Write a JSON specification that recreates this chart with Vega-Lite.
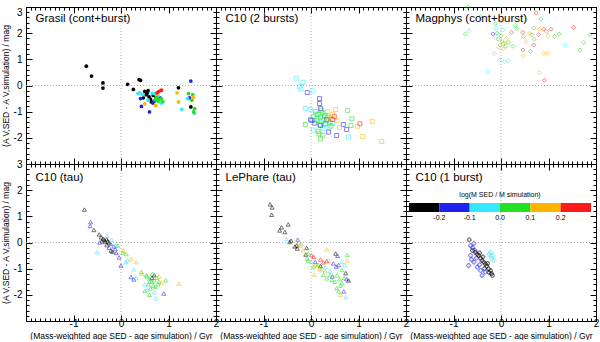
{
"$schema":"https://vega.github.io/schema/vega-lite/v6.json",
"padding":{"left":0,"top":2,"right":0,"bottom":0},
"config":{"view":{"stroke":"black","strokeWidth":1},"font":"Liberation Sans",
"axis":{"domain":false,"grid":false,"tickColor":"black","tickWidth":1,"labelFont":"Liberation Sans","labelFontSize":10,"labelColor":"black","titleFont":"Liberation Sans","titleFontSize":8.5,"titleFontWeight":"normal","titleColor":"black","labelFlush":false,"labelOverlap":false,"labelBound":false}},
"datasets":{
"grasil":[
{"x":-0.73,"y":0.74,"m":-0.25},{"x":-0.62,"y":0.36,"m":-0.25},{"x":-0.38,"y":0.1,"m":-0.25},{"x":-0.38,"y":-0.1,"m":-0.25},{"x":0.14,"y":0.04,"m":-0.25},{"x":0.38,"y":0.22,"m":-0.25},{"x":0.41,"y":0.2,"m":-0.25},{"x":0.26,"y":-0.15,"m":-0.25},{"x":0.5,"y":-0.22,"m":-0.25},{"x":0.53,"y":-0.35,"m":-0.25},{"x":0.59,"y":-0.43,"m":-0.25},{"x":0.64,"y":-0.63,"m":-0.25},{"x":0.74,"y":-0.47,"m":-0.25},{"x":0.47,"y":-0.47,"m":-0.25},{"x":0.55,"y":-0.3,"m":-0.25},{"x":0.62,"y":-0.52,"m":-0.25},{"x":0.68,"y":-0.38,"m":-0.25},{"x":1.21,"y":-0.09,"m":-0.25},{"x":1.47,"y":-0.82,"m":-0.25},{"x":0.57,"y":-0.2,"m":-0.25},
{"x":0.41,"y":-0.5,"m":-0.15},{"x":0.43,"y":-0.8,"m":-0.15},{"x":0.6,"y":-1.01,"m":-0.15},{"x":0.67,"y":-0.67,"m":-0.15},{"x":0.82,"y":-0.47,"m":-0.15},{"x":1.47,"y":0.17,"m":-0.15},{"x":1.44,"y":-0.47,"m":-0.15},{"x":0.7,"y":-0.6,"m":-0.15},
{"x":0.4,"y":-0.28,"m":-0.05},{"x":0.46,"y":-0.35,"m":-0.05},{"x":0.57,"y":-0.56,"m":-0.05},{"x":0.71,"y":-0.31,"m":-0.05},{"x":0.85,"y":-0.67,"m":-0.05},{"x":1.4,"y":-0.5,"m":-0.05},{"x":1.28,"y":-0.91,"m":-0.05},{"x":1.55,"y":-1.07,"m":-0.05},{"x":0.36,"y":-0.3,"m":-0.05},{"x":0.65,"y":-0.3,"m":-0.05},{"x":0.78,"y":-0.4,"m":-0.05},
{"x":0.75,"y":-0.45,"m":0.05},{"x":0.8,"y":-0.55,"m":0.05},{"x":0.85,"y":-0.5,"m":0.05},{"x":0.78,"y":-0.6,"m":0.05},{"x":0.88,"y":-0.62,"m":0.05},{"x":1.42,"y":-0.31,"m":0.05},{"x":1.51,"y":-0.35,"m":0.05},{"x":1.49,"y":-0.56,"m":0.05},{"x":1.55,"y":-0.88,"m":0.05},{"x":1.53,"y":-1.01,"m":0.05},{"x":0.72,"y":-0.55,"m":0.05},
{"x":0.76,"y":-0.31,"m":0.15},{"x":1.18,"y":-0.28,"m":0.15},{"x":1.21,"y":-0.63,"m":0.15},{"x":0.73,"y":-0.76,"m":0.15},{"x":1.52,"y":-0.45,"m":0.15},{"x":0.5,"y":-0.7,"m":0.15},
{"x":0.8,"y":-0.22,"m":0.25},{"x":0.85,"y":-0.18,"m":0.25},{"x":0.76,"y":-0.28,"m":0.25}],
"c10b2":[
{"x":-0.31,"y":0.28,"m":-0.05},{"x":-0.17,"y":0.12,"m":-0.05},{"x":-0.21,"y":-0.13,"m":-0.05},{"x":-0.24,"y":-0.03,"m":-0.05},{"x":0.04,"y":-0.2,"m":-0.05},{"x":-0.12,"y":-0.88,"m":-0.05},{"x":-0.01,"y":-0.92,"m":-0.05},{"x":0.79,"y":-1.97,"m":-0.05},{"x":0.3,"y":-1.5,"m":-0.05},{"x":0.38,"y":-1.6,"m":-0.05},{"x":0.25,"y":-1.65,"m":-0.05},{"x":0.45,"y":-1.45,"m":-0.05},{"x":0.1,"y":-1.1,"m":-0.05},{"x":0.15,"y":-1.25,"m":-0.05},{"x":0.28,"y":-1.15,"m":-0.05},{"x":0.35,"y":-1.3,"m":-0.05},{"x":0.22,"y":-1.4,"m":-0.05},{"x":0.05,"y":-1.7,"m":-0.05},
{"x":-0.08,"y":-0.27,"m":-0.15},{"x":0.18,"y":-0.5,"m":-0.15},{"x":0.18,"y":-0.69,"m":-0.15},{"x":0.2,"y":-0.88,"m":-0.15},{"x":-0.01,"y":-1.31,"m":-0.15},{"x":0.08,"y":-1.44,"m":-0.15},{"x":0.2,"y":-1.53,"m":-0.15},{"x":0.33,"y":-1.31,"m":-0.15},{"x":0.37,"y":-1.78,"m":-0.15},{"x":0.54,"y":-1.91,"m":-0.15},{"x":0.68,"y":-1.49,"m":-0.15},{"x":0.75,"y":-1.68,"m":-0.15},{"x":0.02,"y":-1.33,"m":-0.15},
{"x":0.27,"y":-1.33,"m":0.05},{"x":0.1,"y":-1.0,"m":0.05},{"x":0.15,"y":-1.1,"m":0.05},{"x":0.2,"y":-1.2,"m":0.05},{"x":0.25,"y":-1.05,"m":0.05},{"x":0.3,"y":-1.15,"m":0.05},{"x":0.35,"y":-1.2,"m":0.05},{"x":0.4,"y":-1.4,"m":0.05},{"x":0.12,"y":-1.35,"m":0.05},{"x":0.18,"y":-1.5,"m":0.05},{"x":0.3,"y":-1.45,"m":0.05},{"x":0.42,"y":-1.55,"m":0.05},{"x":-0.12,"y":-1.49,"m":0.05},{"x":0.77,"y":-0.95,"m":0.05},{"x":0.86,"y":-1.27,"m":0.05},{"x":0.84,"y":-1.53,"m":0.05},{"x":0.17,"y":-1.85,"m":0.05},{"x":0.2,"y":-2.04,"m":0.05},{"x":0.15,"y":-1.75,"m":0.05},{"x":0.25,"y":-1.9,"m":0.05},{"x":0.05,"y":-1.2,"m":0.05},{"x":0.22,"y":-0.95,"m":0.05},
{"x":0.52,"y":-0.92,"m":0.15},{"x":0.98,"y":-1.56,"m":0.15},{"x":1.09,"y":-1.95,"m":0.15},{"x":1.29,"y":-1.37,"m":0.15},{"x":1.49,"y":-2.14,"m":0.15},{"x":0.45,"y":-1.1,"m":0.15},{"x":0.4,"y":-1.25,"m":0.15},{"x":0.55,"y":-1.35,"m":0.15},{"x":0.35,"y":-1.0,"m":0.15},{"x":0.6,"y":-1.6,"m":0.15},
{"x":1.03,"y":-1.46,"m":0.25},{"x":0.49,"y":-1.18,"m":0.25},{"x":0.45,"y":-1.3,"m":0.25}],
"magphys":[
{"x":0.74,"y":2.77,"m":0.25},{"x":0.22,"y":2.03,"m":0.25},{"x":0.46,"y":2.03,"m":0.25},{"x":0.69,"y":1.55,"m":0.25},{"x":0.46,"y":1.36,"m":0.25},{"x":0.9,"y":2.15,"m":0.25},{"x":0.79,"y":1.94,"m":0.25},{"x":1.05,"y":2.15,"m":0.25},{"x":1.53,"y":2.22,"m":0.25},{"x":0.91,"y":0.2,"m":0.25},
{"x":0.84,"y":2.54,"m":0.05},{"x":-0.75,"y":1.97,"m":0.05},{"x":-0.12,"y":2.36,"m":0.05},{"x":-0.06,"y":1.77,"m":0.05},{"x":0.33,"y":2.19,"m":0.05},{"x":0.47,"y":1.87,"m":0.05},{"x":0.62,"y":1.3,"m":0.05},{"x":0.69,"y":2.19,"m":0.05},{"x":0.65,"y":1.94,"m":0.05},{"x":0.7,"y":1.77,"m":0.05},{"x":0.96,"y":2.06,"m":0.05},{"x":1.13,"y":1.87,"m":0.05},{"x":1.22,"y":1.97,"m":0.05},{"x":1.66,"y":1.36,"m":0.05},{"x":1.74,"y":1.64,"m":0.05},{"x":1.87,"y":1.94,"m":0.05},{"x":-0.7,"y":3.0,"m":0.05},{"x":-0.43,"y":2.64,"m":0.05},{"x":0.05,"y":1.6,"m":0.05},{"x":0.1,"y":1.5,"m":0.05},{"x":0.15,"y":1.65,"m":0.05},{"x":0.25,"y":1.5,"m":0.05},{"x":0.0,"y":1.9,"m":0.05},{"x":-0.08,"y":2.0,"m":0.05},{"x":0.3,"y":2.3,"m":0.05},
{"x":-0.67,"y":2.09,"m":-0.05},{"x":-0.1,"y":2.19,"m":-0.05},{"x":-0.11,"y":1.87,"m":-0.05},{"x":0.04,"y":2.13,"m":-0.05},{"x":1.36,"y":1.53,"m":-0.05},{"x":-0.03,"y":0.95,"m":-0.05},{"x":0.07,"y":0.91,"m":-0.05},{"x":0.15,"y":0.95,"m":-0.05},{"x":-0.14,"y":1.23,"m":-0.05},{"x":-0.28,"y":0.53,"m":-0.05},{"x":-0.05,"y":1.45,"m":-0.05},
{"x":-0.17,"y":1.97,"m":-0.15},
{"x":0.02,"y":1.7,"m":0.15},{"x":0.08,"y":1.62,"m":0.15},{"x":-0.02,"y":1.55,"m":0.15},{"x":0.12,"y":1.8,"m":0.15},{"x":0.53,"y":1.68,"m":0.15},{"x":0.47,"y":1.13,"m":0.15},{"x":0.81,"y":2.15,"m":0.15},{"x":0.99,"y":1.9,"m":0.15},{"x":0.9,"y":1.23,"m":0.15},{"x":0.98,"y":1.23,"m":0.15},{"x":0.81,"y":0.49,"m":0.15},{"x":0.6,"y":2.0,"m":0.15},{"x":0.05,"y":1.4,"m":0.15}],
"c10tau":[
{"x":-0.77,"y":1.26,"m":-0.25},{"x":-0.57,"y":0.48,"m":-0.25},{"x":-0.46,"y":0.31,"m":-0.25},{"x":-0.42,"y":0.2,"m":-0.25},{"x":-0.38,"y":0.15,"m":-0.25},{"x":-0.35,"y":0.1,"m":-0.25},{"x":-0.3,"y":0.12,"m":-0.25},{"x":-0.28,"y":0.05,"m":-0.25},{"x":-0.33,"y":0.02,"m":-0.25},{"x":-0.25,"y":0.0,"m":-0.25},{"x":-0.4,"y":0.05,"m":-0.25},{"x":-0.21,"y":-0.31,"m":-0.25},{"x":-0.18,"y":-0.35,"m":-0.25},{"x":-0.3,"y":-0.1,"m":-0.25},{"x":0.65,"y":-1.35,"m":-0.25},{"x":0.7,"y":-1.25,"m":-0.25},
{"x":-0.64,"y":0.78,"m":-0.15},{"x":-0.65,"y":0.63,"m":-0.15},{"x":-0.22,"y":-0.05,"m":-0.15},{"x":-0.15,"y":-0.15,"m":-0.15},{"x":-0.12,"y":-0.25,"m":-0.15},{"x":-0.1,"y":-0.4,"m":-0.15},{"x":-0.04,"y":-0.57,"m":-0.15},{"x":0.0,"y":-0.88,"m":-0.15},{"x":0.21,"y":-1.32,"m":-0.15},{"x":0.27,"y":-1.41,"m":-0.15},{"x":0.9,"y":-1.95,"m":-0.15},{"x":-0.45,"y":0.0,"m":-0.15},{"x":-0.25,"y":-0.2,"m":-0.15},
{"x":-0.5,"y":-0.37,"m":-0.05},{"x":-0.3,"y":0.25,"m":-0.05},{"x":-0.2,"y":0.1,"m":-0.05},{"x":0.14,"y":-0.69,"m":-0.05},{"x":0.1,"y":-0.75,"m":-0.05},{"x":0.27,"y":-1.03,"m":-0.05},{"x":0.32,"y":-1.36,"m":-0.05},{"x":0.74,"y":-2.14,"m":-0.05},{"x":0.5,"y":-1.6,"m":-0.05},{"x":0.55,"y":-1.8,"m":-0.05},{"x":0.7,"y":-1.9,"m":-0.05},{"x":0.6,"y":-1.5,"m":-0.05},{"x":-0.1,"y":-0.1,"m":-0.05},
{"x":-0.07,"y":-0.12,"m":0.05},{"x":0.04,"y":-0.38,"m":0.05},{"x":0.11,"y":-0.44,"m":0.05},{"x":0.43,"y":-1.13,"m":0.05},{"x":0.55,"y":-1.3,"m":0.05},{"x":0.6,"y":-1.4,"m":0.05},{"x":0.65,"y":-1.5,"m":0.05},{"x":0.7,"y":-1.45,"m":0.05},{"x":0.75,"y":-1.35,"m":0.05},{"x":0.8,"y":-1.5,"m":0.05},{"x":0.58,"y":-1.6,"m":0.05},{"x":0.68,"y":-1.65,"m":0.05},{"x":0.62,"y":-1.75,"m":0.05},{"x":0.72,"y":-1.7,"m":0.05},{"x":0.5,"y":-1.85,"m":0.05},{"x":0.6,"y":-2.0,"m":0.05},{"x":0.53,"y":-1.25,"m":0.05},{"x":0.78,"y":-1.6,"m":0.05},{"x":0.94,"y":-1.45,"m":0.05},{"x":0.66,"y":-1.2,"m":0.05},
{"x":0.21,"y":-0.63,"m":0.15},{"x":0.32,"y":-0.75,"m":0.15},{"x":1.22,"y":-1.57,"m":0.15},{"x":0.45,"y":-1.2,"m":0.15},{"x":0.8,"y":-1.3,"m":0.15},{"x":0.85,"y":-1.55,"m":0.15},{"x":0.05,"y":-0.3,"m":0.15}],
"lephare":[
{"x":-0.86,"y":1.46,"m":-0.25},{"x":-0.82,"y":1.34,"m":-0.25},{"x":-0.83,"y":1.06,"m":-0.25},{"x":-0.48,"y":0.69,"m":-0.25},{"x":-0.62,"y":0.58,"m":-0.25},{"x":-0.66,"y":0.46,"m":-0.25},{"x":-0.55,"y":0.4,"m":-0.25},{"x":-0.45,"y":0.02,"m":-0.25},{"x":-0.42,"y":0.07,"m":-0.25},{"x":-0.3,"y":-0.11,"m":-0.25},{"x":-0.29,"y":-0.23,"m":-0.25},{"x":-0.34,"y":-0.15,"m":-0.25},{"x":-0.09,"y":-0.21,"m":-0.25},{"x":-0.11,"y":-0.46,"m":-0.25},{"x":0.73,"y":-1.17,"m":-0.25},{"x":0.79,"y":-1.45,"m":-0.25},{"x":0.52,"y":-0.42,"m":-0.25},{"x":0.2,"y":-0.9,"m":-0.25},
{"x":-0.28,"y":0.11,"m":-0.15},{"x":0.09,"y":-0.74,"m":-0.15},{"x":0.47,"y":-0.8,"m":-0.15},{"x":0.53,"y":-0.92,"m":-0.15},{"x":0.56,"y":-0.51,"m":-0.15},{"x":0.58,"y":-0.86,"m":-0.15},{"x":0.69,"y":-1.87,"m":-0.15},{"x":0.45,"y":-1.3,"m":-0.15},{"x":0.75,"y":-1.4,"m":-0.15},
{"x":-0.52,"y":0.14,"m":-0.05},{"x":0.01,"y":-0.74,"m":-0.05},{"x":0.22,"y":-1.05,"m":-0.05},{"x":0.65,"y":-0.74,"m":-0.05},{"x":0.71,"y":-0.86,"m":-0.05},{"x":0.73,"y":-2.09,"m":-0.05},{"x":-0.2,"y":-0.05,"m":-0.05},{"x":0.4,"y":-1.1,"m":-0.05},{"x":0.3,"y":-0.95,"m":-0.05},
{"x":-0.06,"y":-0.42,"m":0.05},{"x":-0.08,"y":-0.61,"m":0.05},{"x":-0.06,"y":-0.69,"m":0.05},{"x":0.05,"y":-0.92,"m":0.05},{"x":0.26,"y":-1.24,"m":0.05},{"x":0.33,"y":-1.37,"m":0.05},{"x":0.44,"y":-1.43,"m":0.05},{"x":0.76,"y":-0.48,"m":0.05},{"x":0.65,"y":-1.05,"m":0.05},{"x":0.54,"y":-1.74,"m":0.05},{"x":0.58,"y":-1.87,"m":0.05},{"x":0.5,"y":-1.5,"m":0.05},{"x":0.6,"y":-1.4,"m":0.05},{"x":0.65,"y":-1.55,"m":0.05},{"x":0.7,"y":-1.35,"m":0.05},{"x":0.55,"y":-1.25,"m":0.05},{"x":0.15,"y":-0.85,"m":0.05},{"x":0.4,"y":-1.25,"m":0.05},{"x":0.62,"y":-1.65,"m":0.05},
{"x":-0.22,"y":-0.13,"m":0.15},{"x":-0.17,"y":-0.3,"m":0.15},{"x":0.33,"y":-0.26,"m":0.15},{"x":0.37,"y":-0.69,"m":0.15},{"x":0.76,"y":-0.69,"m":0.15},{"x":0.1,"y":-0.85,"m":0.15},{"x":0.18,"y":-1.0,"m":0.15},{"x":0.3,"y":-1.1,"m":0.15},{"x":-0.25,"y":0.0,"m":0.15},{"x":0.62,"y":-2.0,"m":0.15},{"x":0.07,"y":-1.23,"m":0.15},
{"x":0.01,"y":-0.48,"m":0.25},{"x":0.06,"y":-0.55,"m":0.25},{"x":0.26,"y":-0.76,"m":0.25},{"x":0.33,"y":-0.71,"m":0.25},{"x":0.2,"y":-0.65,"m":0.25}],
"c10b1":[
{"x":-0.67,"y":0.1,"m":-0.25},{"x":-0.54,"y":-0.38,"m":-0.25},{"x":-0.47,"y":-0.5,"m":-0.25},{"x":-0.4,"y":-0.69,"m":-0.25},{"x":-0.33,"y":-0.82,"m":-0.25},{"x":-0.26,"y":-1.01,"m":-0.25},{"x":-0.2,"y":-1.19,"m":-0.25},{"x":-0.22,"y":-1.07,"m":-0.25},{"x":-0.18,"y":-1.26,"m":-0.25},{"x":-0.5,"y":-0.45,"m":-0.25},{"x":-0.43,"y":-0.6,"m":-0.25},{"x":-0.36,"y":-0.75,"m":-0.25},{"x":-0.3,"y":-0.9,"m":-0.25},{"x":-0.45,"y":-0.4,"m":-0.25},{"x":-0.38,"y":-0.55,"m":-0.25},{"x":-0.28,"y":-0.8,"m":-0.25},{"x":-0.35,"y":-1.0,"m":-0.25},{"x":-0.25,"y":-1.15,"m":-0.25},{"x":-0.6,"y":-0.3,"m":-0.25},
{"x":-0.57,"y":-0.03,"m":-0.15},{"x":-0.64,"y":-0.12,"m":-0.15},{"x":-0.6,"y":-0.2,"m":-0.15},{"x":-0.64,"y":-0.5,"m":-0.15},{"x":-0.57,"y":-0.75,"m":-0.15},{"x":-0.5,"y":-0.94,"m":-0.15},{"x":-0.43,"y":-1.07,"m":-0.15},{"x":-0.68,"y":-0.88,"m":-0.15},{"x":-0.33,"y":-1.13,"m":-0.15},{"x":-0.4,"y":-1.26,"m":-0.15},{"x":-0.55,"y":-0.3,"m":-0.15},{"x":-0.52,"y":-0.6,"m":-0.15},{"x":-0.45,"y":-0.85,"m":-0.15},{"x":-0.62,"y":-0.65,"m":-0.15},
{"x":-0.18,"y":-0.5,"m":-0.05},{"x":-0.15,"y":-0.69,"m":-0.05},{"x":-0.22,"y":-0.38,"m":-0.05},{"x":-0.2,"y":-0.6,"m":-0.05},{"x":-0.25,"y":-0.45,"m":-0.05}]
},
"columns":3,
"spacing":0,
"bounds":"flush",
"concat":[
{"width":190,"height":157,"data":{"name":"grasil"},"resolve":{"axis":{"x":"independent","y":"independent"}},"layer":[
 {"mark":{"type":"point","shape":"circle","filled":true,"size":14,"opacity":1},
  "encoding":{"x":{"field":"x","type":"quantitative","scale":{"domain":[-2,2],"nice":false,"zero":false},"axis":{"orient":"bottom","values":[-2,-1.9,-1.8,-1.7,-1.6,-1.5,-1.4,-1.3,-1.2,-1.1,-1,-0.9,-0.8,-0.7,-0.6,-0.5,-0.4,-0.3,-0.2,-0.1,0,0.1,0.2,0.3,0.4,0.5,0.6,0.7,0.8,0.9,1,1.1,1.2,1.3,1.4,1.5,1.6,1.7,1.8,1.9,2],"labels":false,"title":null,"tickSize":{"condition":{"test":"datum.value % 1 === 0","value":-6},"value":-3}}},
   "y":{"field":"y","type":"quantitative","scale":{"domain":[-3,3],"nice":false,"zero":false},"axis":{"orient":"left","values":[-3,-2.8,-2.6,-2.4,-2.2,-2,-1.8,-1.6,-1.4,-1.2,-1,-0.8,-0.6,-0.4,-0.2,0,0.2,0.4,0.6,0.8,1,1.2,1.4,1.6,1.8,2,2.2,2.4,2.6,2.8,3],"labelExpr":"indexof([-2,-1,0,1,2,3], datum.value) >= 0 ? '' + datum.value : ''","labelFlush":true,"labelPadding":10,"title":"(A V,SED - A V,simulation) / mag","titlePadding":3,"tickSize":{"condition":{"test":"datum.value % 1 === 0","value":-6},"value":-3}}},
   "color":{"field":"m","type":"quantitative","scale":{"type":"threshold","domain":[-0.2,-0.1,0,0.1,0.2],"range":["#000000","#2222ee","#33e8ff","#22e022","#ffb400","#ff1a1a"]},"legend":{"type":"gradient","orient":"none","direction":"horizontal","legendX":383,"legendY":184,"gradientLength":182,"gradientThickness":9,"title":"log(M SED / M simulation)","titleFontSize":7,"titleFontWeight":"normal","titleAnchor":"middle","labelFontSize":7,"labelExpr":"isFinite(datum.value) ? (datum.value === 0 ? '0.0' : '' + datum.value) : ''","gradientStrokeWidth":0}}}},
 {"data":{"values":[{"v":0}]},"mark":{"type":"rule","color":"#999999","strokeDash":[1,2],"strokeWidth":0.8},"encoding":{"x":{"field":"v","type":"quantitative","axis":{"orient":"top","values":[-2,-1.9,-1.8,-1.7,-1.6,-1.5,-1.4,-1.3,-1.2,-1.1,-1,-0.9,-0.8,-0.7,-0.6,-0.5,-0.4,-0.3,-0.2,-0.1,0,0.1,0.2,0.3,0.4,0.5,0.6,0.7,0.8,0.9,1,1.1,1.2,1.3,1.4,1.5,1.6,1.7,1.8,1.9,2],"labels":false,"title":null,"tickSize":{"condition":{"test":"datum.value % 1 === 0","value":-6},"value":-3}}}}},
 {"data":{"values":[{"v":0}]},"mark":{"type":"rule","color":"#999999","strokeDash":[1,2],"strokeWidth":0.8},"encoding":{"y":{"field":"v","type":"quantitative","axis":{"orient":"right","values":[-3,-2.8,-2.6,-2.4,-2.2,-2,-1.8,-1.6,-1.4,-1.2,-1,-0.8,-0.6,-0.4,-0.2,0,0.2,0.4,0.6,0.8,1,1.2,1.4,1.6,1.8,2,2.2,2.4,2.6,2.8,3],"labels":false,"title":null,"tickSize":{"condition":{"test":"datum.value % 1 === 0","value":-6},"value":-3}}}}},
 {"data":{"values":[{"t":"Grasil (cont+burst)"}]},"mark":{"type":"text","align":"left","baseline":"middle","fontSize":11.5,"font":"Liberation Sans"},"encoding":{"x":{"datum":-1.8,"type":"quantitative","axis":null},"y":{"datum":2.55,"type":"quantitative","axis":null},"text":{"field":"t"}}}
]},
{"width":190,"height":157,"data":{"name":"c10b2"},"resolve":{"axis":{"x":"independent","y":"independent"}},"layer":[
 {"mark":{"type":"point","shape":"square","filled":false,"size":16,"strokeWidth":0.8},
  "encoding":{"x":{"field":"x","type":"quantitative","scale":{"domain":[-2,2],"nice":false,"zero":false},"axis":{"orient":"bottom","values":[-2,-1.9,-1.8,-1.7,-1.6,-1.5,-1.4,-1.3,-1.2,-1.1,-1,-0.9,-0.8,-0.7,-0.6,-0.5,-0.4,-0.3,-0.2,-0.1,0,0.1,0.2,0.3,0.4,0.5,0.6,0.7,0.8,0.9,1,1.1,1.2,1.3,1.4,1.5,1.6,1.7,1.8,1.9,2],"labels":false,"title":null,"tickSize":{"condition":{"test":"datum.value % 1 === 0","value":-6},"value":-3}}},
   "y":{"field":"y","type":"quantitative","scale":{"domain":[-3,3],"nice":false,"zero":false},"axis":{"orient":"left","values":[-3,-2.8,-2.6,-2.4,-2.2,-2,-1.8,-1.6,-1.4,-1.2,-1,-0.8,-0.6,-0.4,-0.2,0,0.2,0.4,0.6,0.8,1,1.2,1.4,1.6,1.8,2,2.2,2.4,2.6,2.8,3],"labels":false,"title":null,"tickSize":{"condition":{"test":"datum.value % 1 === 0","value":-6},"value":-3}}},
   "color":{"field":"m","type":"quantitative","scale":{"type":"threshold","domain":[-0.2,-0.1,0,0.1,0.2],"range":["#000000","#2222ee","#33e8ff","#22e022","#ffb400","#ff1a1a"]},"legend":{"type":"gradient","orient":"none","direction":"horizontal","legendX":383,"legendY":184,"gradientLength":182,"gradientThickness":9,"title":"log(M SED / M simulation)","titleFontSize":7,"titleFontWeight":"normal","titleAnchor":"middle","labelFontSize":7,"labelExpr":"isFinite(datum.value) ? (datum.value === 0 ? '0.0' : '' + datum.value) : ''","gradientStrokeWidth":0}}}},
 {"data":{"values":[{"v":0}]},"mark":{"type":"rule","color":"#999999","strokeDash":[1,2],"strokeWidth":0.8},"encoding":{"x":{"field":"v","type":"quantitative","axis":{"orient":"top","values":[-2,-1.9,-1.8,-1.7,-1.6,-1.5,-1.4,-1.3,-1.2,-1.1,-1,-0.9,-0.8,-0.7,-0.6,-0.5,-0.4,-0.3,-0.2,-0.1,0,0.1,0.2,0.3,0.4,0.5,0.6,0.7,0.8,0.9,1,1.1,1.2,1.3,1.4,1.5,1.6,1.7,1.8,1.9,2],"labels":false,"title":null,"tickSize":{"condition":{"test":"datum.value % 1 === 0","value":-6},"value":-3}}}}},
 {"data":{"values":[{"v":0}]},"mark":{"type":"rule","color":"#999999","strokeDash":[1,2],"strokeWidth":0.8},"encoding":{"y":{"field":"v","type":"quantitative","axis":{"orient":"right","values":[-3,-2.8,-2.6,-2.4,-2.2,-2,-1.8,-1.6,-1.4,-1.2,-1,-0.8,-0.6,-0.4,-0.2,0,0.2,0.4,0.6,0.8,1,1.2,1.4,1.6,1.8,2,2.2,2.4,2.6,2.8,3],"labels":false,"title":null,"tickSize":{"condition":{"test":"datum.value % 1 === 0","value":-6},"value":-3}}}}},
 {"data":{"values":[{"t":"C10 (2 bursts)"}]},"mark":{"type":"text","align":"left","baseline":"middle","fontSize":11.5,"font":"Liberation Sans"},"encoding":{"x":{"datum":-1.8,"type":"quantitative","axis":null},"y":{"datum":2.55,"type":"quantitative","axis":null},"text":{"field":"t"}}}
]},
{"width":190,"height":157,"data":{"name":"magphys"},"resolve":{"axis":{"x":"independent","y":"independent"}},"layer":[
 {"mark":{"type":"point","shape":"diamond","filled":false,"size":16,"strokeWidth":0.8},
  "encoding":{"x":{"field":"x","type":"quantitative","scale":{"domain":[-2,2],"nice":false,"zero":false},"axis":{"orient":"bottom","values":[-2,-1.9,-1.8,-1.7,-1.6,-1.5,-1.4,-1.3,-1.2,-1.1,-1,-0.9,-0.8,-0.7,-0.6,-0.5,-0.4,-0.3,-0.2,-0.1,0,0.1,0.2,0.3,0.4,0.5,0.6,0.7,0.8,0.9,1,1.1,1.2,1.3,1.4,1.5,1.6,1.7,1.8,1.9,2],"labels":false,"title":null,"tickSize":{"condition":{"test":"datum.value % 1 === 0","value":-6},"value":-3}}},
   "y":{"field":"y","type":"quantitative","scale":{"domain":[-3,3],"nice":false,"zero":false},"axis":{"orient":"left","values":[-3,-2.8,-2.6,-2.4,-2.2,-2,-1.8,-1.6,-1.4,-1.2,-1,-0.8,-0.6,-0.4,-0.2,0,0.2,0.4,0.6,0.8,1,1.2,1.4,1.6,1.8,2,2.2,2.4,2.6,2.8,3],"labels":false,"title":null,"tickSize":{"condition":{"test":"datum.value % 1 === 0","value":-6},"value":-3}}},
   "color":{"field":"m","type":"quantitative","scale":{"type":"threshold","domain":[-0.2,-0.1,0,0.1,0.2],"range":["#000000","#2222ee","#33e8ff","#22e022","#ffb400","#ff1a1a"]},"legend":{"type":"gradient","orient":"none","direction":"horizontal","legendX":383,"legendY":184,"gradientLength":182,"gradientThickness":9,"title":"log(M SED / M simulation)","titleFontSize":7,"titleFontWeight":"normal","titleAnchor":"middle","labelFontSize":7,"labelExpr":"isFinite(datum.value) ? (datum.value === 0 ? '0.0' : '' + datum.value) : ''","gradientStrokeWidth":0}}}},
 {"data":{"values":[{"v":0}]},"mark":{"type":"rule","color":"#999999","strokeDash":[1,2],"strokeWidth":0.8},"encoding":{"x":{"field":"v","type":"quantitative","axis":{"orient":"top","values":[-2,-1.9,-1.8,-1.7,-1.6,-1.5,-1.4,-1.3,-1.2,-1.1,-1,-0.9,-0.8,-0.7,-0.6,-0.5,-0.4,-0.3,-0.2,-0.1,0,0.1,0.2,0.3,0.4,0.5,0.6,0.7,0.8,0.9,1,1.1,1.2,1.3,1.4,1.5,1.6,1.7,1.8,1.9,2],"labels":false,"title":null,"tickSize":{"condition":{"test":"datum.value % 1 === 0","value":-6},"value":-3}}}}},
 {"data":{"values":[{"v":0}]},"mark":{"type":"rule","color":"#999999","strokeDash":[1,2],"strokeWidth":0.8},"encoding":{"y":{"field":"v","type":"quantitative","axis":{"orient":"right","values":[-3,-2.8,-2.6,-2.4,-2.2,-2,-1.8,-1.6,-1.4,-1.2,-1,-0.8,-0.6,-0.4,-0.2,0,0.2,0.4,0.6,0.8,1,1.2,1.4,1.6,1.8,2,2.2,2.4,2.6,2.8,3],"labels":false,"title":null,"tickSize":{"condition":{"test":"datum.value % 1 === 0","value":-6},"value":-3}}}}},
 {"data":{"values":[{"t":"Magphys (cont+burst)"}]},"mark":{"type":"text","align":"left","baseline":"middle","fontSize":11.5,"font":"Liberation Sans"},"encoding":{"x":{"datum":-1.8,"type":"quantitative","axis":null},"y":{"datum":2.55,"type":"quantitative","axis":null},"text":{"field":"t"}}}
]},
{"width":190,"height":157,"data":{"name":"c10tau"},"resolve":{"axis":{"x":"independent","y":"independent"}},"layer":[
 {"mark":{"type":"point","shape":"triangle-up","filled":false,"size":16,"strokeWidth":0.8},
  "encoding":{"x":{"field":"x","type":"quantitative","scale":{"domain":[-2,2],"nice":false,"zero":false},"axis":{"orient":"bottom","values":[-2,-1.9,-1.8,-1.7,-1.6,-1.5,-1.4,-1.3,-1.2,-1.1,-1,-0.9,-0.8,-0.7,-0.6,-0.5,-0.4,-0.3,-0.2,-0.1,0,0.1,0.2,0.3,0.4,0.5,0.6,0.7,0.8,0.9,1,1.1,1.2,1.3,1.4,1.5,1.6,1.7,1.8,1.9,2],"labelExpr":"indexof([-1,0,1,2], datum.value) >= 0 ? '' + datum.value : ''","labelPadding":3,"title":"(Mass-weighted age SED - age simulation) / Gyr","titlePadding":0,"tickSize":{"condition":{"test":"datum.value % 1 === 0","value":-6},"value":-3}}},
   "y":{"field":"y","type":"quantitative","scale":{"domain":[-3,3],"nice":false,"zero":false},"axis":{"orient":"left","values":[-3,-2.8,-2.6,-2.4,-2.2,-2,-1.8,-1.6,-1.4,-1.2,-1,-0.8,-0.6,-0.4,-0.2,0,0.2,0.4,0.6,0.8,1,1.2,1.4,1.6,1.8,2,2.2,2.4,2.6,2.8,3],"labelExpr":"indexof([-2,-1,0,1,2,3], datum.value) >= 0 ? '' + datum.value : ''","labelPadding":10,"title":"(A V,SED - A V,simulation) / mag","titlePadding":3,"tickSize":{"condition":{"test":"datum.value % 1 === 0","value":-6},"value":-3}}},
   "color":{"field":"m","type":"quantitative","scale":{"type":"threshold","domain":[-0.2,-0.1,0,0.1,0.2],"range":["#000000","#2222ee","#33e8ff","#22e022","#ffb400","#ff1a1a"]},"legend":{"type":"gradient","orient":"none","direction":"horizontal","legendX":383,"legendY":184,"gradientLength":182,"gradientThickness":9,"title":"log(M SED / M simulation)","titleFontSize":7,"titleFontWeight":"normal","titleAnchor":"middle","labelFontSize":7,"labelExpr":"isFinite(datum.value) ? (datum.value === 0 ? '0.0' : '' + datum.value) : ''","gradientStrokeWidth":0}}}},
 {"data":{"values":[{"v":0}]},"mark":{"type":"rule","color":"#999999","strokeDash":[1,2],"strokeWidth":0.8},"encoding":{"x":{"field":"v","type":"quantitative","axis":{"orient":"top","values":[-2,-1.9,-1.8,-1.7,-1.6,-1.5,-1.4,-1.3,-1.2,-1.1,-1,-0.9,-0.8,-0.7,-0.6,-0.5,-0.4,-0.3,-0.2,-0.1,0,0.1,0.2,0.3,0.4,0.5,0.6,0.7,0.8,0.9,1,1.1,1.2,1.3,1.4,1.5,1.6,1.7,1.8,1.9,2],"labels":false,"title":null,"tickSize":{"condition":{"test":"datum.value % 1 === 0","value":-6},"value":-3}}}}},
 {"data":{"values":[{"v":0}]},"mark":{"type":"rule","color":"#999999","strokeDash":[1,2],"strokeWidth":0.8},"encoding":{"y":{"field":"v","type":"quantitative","axis":{"orient":"right","values":[-3,-2.8,-2.6,-2.4,-2.2,-2,-1.8,-1.6,-1.4,-1.2,-1,-0.8,-0.6,-0.4,-0.2,0,0.2,0.4,0.6,0.8,1,1.2,1.4,1.6,1.8,2,2.2,2.4,2.6,2.8,3],"labels":false,"title":null,"tickSize":{"condition":{"test":"datum.value % 1 === 0","value":-6},"value":-3}}}}},
 {"data":{"values":[{"t":"C10 (tau)"}]},"mark":{"type":"text","align":"left","baseline":"middle","fontSize":11.5,"font":"Liberation Sans"},"encoding":{"x":{"datum":-1.8,"type":"quantitative","axis":null},"y":{"datum":2.45,"type":"quantitative","axis":null},"text":{"field":"t"}}}
]},
{"width":190,"height":157,"data":{"name":"lephare"},"resolve":{"axis":{"x":"independent","y":"independent"}},"layer":[
 {"mark":{"type":"point","shape":"triangle-up","filled":false,"size":16,"strokeWidth":0.8},
  "encoding":{"x":{"field":"x","type":"quantitative","scale":{"domain":[-2,2],"nice":false,"zero":false},"axis":{"orient":"bottom","values":[-2,-1.9,-1.8,-1.7,-1.6,-1.5,-1.4,-1.3,-1.2,-1.1,-1,-0.9,-0.8,-0.7,-0.6,-0.5,-0.4,-0.3,-0.2,-0.1,0,0.1,0.2,0.3,0.4,0.5,0.6,0.7,0.8,0.9,1,1.1,1.2,1.3,1.4,1.5,1.6,1.7,1.8,1.9,2],"labelExpr":"indexof([-1,0,1,2], datum.value) >= 0 ? '' + datum.value : ''","labelPadding":3,"title":"(Mass-weighted age SED - age simulation) / Gyr","titlePadding":0,"tickSize":{"condition":{"test":"datum.value % 1 === 0","value":-6},"value":-3}}},
   "y":{"field":"y","type":"quantitative","scale":{"domain":[-3,3],"nice":false,"zero":false},"axis":{"orient":"left","values":[-3,-2.8,-2.6,-2.4,-2.2,-2,-1.8,-1.6,-1.4,-1.2,-1,-0.8,-0.6,-0.4,-0.2,0,0.2,0.4,0.6,0.8,1,1.2,1.4,1.6,1.8,2,2.2,2.4,2.6,2.8,3],"labels":false,"title":null,"tickSize":{"condition":{"test":"datum.value % 1 === 0","value":-6},"value":-3}}},
   "color":{"field":"m","type":"quantitative","scale":{"type":"threshold","domain":[-0.2,-0.1,0,0.1,0.2],"range":["#000000","#2222ee","#33e8ff","#22e022","#ffb400","#ff1a1a"]},"legend":{"type":"gradient","orient":"none","direction":"horizontal","legendX":383,"legendY":184,"gradientLength":182,"gradientThickness":9,"title":"log(M SED / M simulation)","titleFontSize":7,"titleFontWeight":"normal","titleAnchor":"middle","labelFontSize":7,"labelExpr":"isFinite(datum.value) ? (datum.value === 0 ? '0.0' : '' + datum.value) : ''","gradientStrokeWidth":0}}}},
 {"data":{"values":[{"v":0}]},"mark":{"type":"rule","color":"#999999","strokeDash":[1,2],"strokeWidth":0.8},"encoding":{"x":{"field":"v","type":"quantitative","axis":{"orient":"top","values":[-2,-1.9,-1.8,-1.7,-1.6,-1.5,-1.4,-1.3,-1.2,-1.1,-1,-0.9,-0.8,-0.7,-0.6,-0.5,-0.4,-0.3,-0.2,-0.1,0,0.1,0.2,0.3,0.4,0.5,0.6,0.7,0.8,0.9,1,1.1,1.2,1.3,1.4,1.5,1.6,1.7,1.8,1.9,2],"labels":false,"title":null,"tickSize":{"condition":{"test":"datum.value % 1 === 0","value":-6},"value":-3}}}}},
 {"data":{"values":[{"v":0}]},"mark":{"type":"rule","color":"#999999","strokeDash":[1,2],"strokeWidth":0.8},"encoding":{"y":{"field":"v","type":"quantitative","axis":{"orient":"right","values":[-3,-2.8,-2.6,-2.4,-2.2,-2,-1.8,-1.6,-1.4,-1.2,-1,-0.8,-0.6,-0.4,-0.2,0,0.2,0.4,0.6,0.8,1,1.2,1.4,1.6,1.8,2,2.2,2.4,2.6,2.8,3],"labels":false,"title":null,"tickSize":{"condition":{"test":"datum.value % 1 === 0","value":-6},"value":-3}}}}},
 {"data":{"values":[{"t":"LePhare (tau)"}]},"mark":{"type":"text","align":"left","baseline":"middle","fontSize":11.5,"font":"Liberation Sans"},"encoding":{"x":{"datum":-1.8,"type":"quantitative","axis":null},"y":{"datum":2.45,"type":"quantitative","axis":null},"text":{"field":"t"}}}
]},
{"width":190,"height":157,"data":{"name":"c10b1"},"resolve":{"axis":{"x":"independent","y":"independent"}},"layer":[
 {"mark":{"type":"point","shape":"cross","filled":false,"size":16,"strokeWidth":0.8},
  "encoding":{"x":{"field":"x","type":"quantitative","scale":{"domain":[-2,2],"nice":false,"zero":false},"axis":{"orient":"bottom","values":[-2,-1.9,-1.8,-1.7,-1.6,-1.5,-1.4,-1.3,-1.2,-1.1,-1,-0.9,-0.8,-0.7,-0.6,-0.5,-0.4,-0.3,-0.2,-0.1,0,0.1,0.2,0.3,0.4,0.5,0.6,0.7,0.8,0.9,1,1.1,1.2,1.3,1.4,1.5,1.6,1.7,1.8,1.9,2],"labelExpr":"indexof([-1,0,1,2], datum.value) >= 0 ? '' + datum.value : ''","labelPadding":3,"title":"(Mass-weighted age SED - age simulation) / Gyr","titlePadding":0,"tickSize":{"condition":{"test":"datum.value % 1 === 0","value":-6},"value":-3}}},
   "y":{"field":"y","type":"quantitative","scale":{"domain":[-3,3],"nice":false,"zero":false},"axis":{"orient":"left","values":[-3,-2.8,-2.6,-2.4,-2.2,-2,-1.8,-1.6,-1.4,-1.2,-1,-0.8,-0.6,-0.4,-0.2,0,0.2,0.4,0.6,0.8,1,1.2,1.4,1.6,1.8,2,2.2,2.4,2.6,2.8,3],"labels":false,"title":null,"tickSize":{"condition":{"test":"datum.value % 1 === 0","value":-6},"value":-3}}},
   "color":{"field":"m","type":"quantitative","scale":{"type":"threshold","domain":[-0.2,-0.1,0,0.1,0.2],"range":["#000000","#2222ee","#33e8ff","#22e022","#ffb400","#ff1a1a"]},"legend":{"type":"gradient","orient":"none","direction":"horizontal","legendX":383,"legendY":184,"gradientLength":182,"gradientThickness":9,"title":"log(M SED / M simulation)","titleFontSize":7,"titleFontWeight":"normal","titleAnchor":"middle","labelFontSize":7,"labelExpr":"isFinite(datum.value) ? (datum.value === 0 ? '0.0' : '' + datum.value) : ''","gradientStrokeWidth":0}}}},
 {"data":{"values":[{"v":0}]},"mark":{"type":"rule","color":"#999999","strokeDash":[1,2],"strokeWidth":0.8},"encoding":{"x":{"field":"v","type":"quantitative","axis":{"orient":"top","values":[-2,-1.9,-1.8,-1.7,-1.6,-1.5,-1.4,-1.3,-1.2,-1.1,-1,-0.9,-0.8,-0.7,-0.6,-0.5,-0.4,-0.3,-0.2,-0.1,0,0.1,0.2,0.3,0.4,0.5,0.6,0.7,0.8,0.9,1,1.1,1.2,1.3,1.4,1.5,1.6,1.7,1.8,1.9,2],"labels":false,"title":null,"tickSize":{"condition":{"test":"datum.value % 1 === 0","value":-6},"value":-3}}}}},
 {"data":{"values":[{"v":0}]},"mark":{"type":"rule","color":"#999999","strokeDash":[1,2],"strokeWidth":0.8},"encoding":{"y":{"field":"v","type":"quantitative","axis":{"orient":"right","values":[-3,-2.8,-2.6,-2.4,-2.2,-2,-1.8,-1.6,-1.4,-1.2,-1,-0.8,-0.6,-0.4,-0.2,0,0.2,0.4,0.6,0.8,1,1.2,1.4,1.6,1.8,2,2.2,2.4,2.6,2.8,3],"labels":false,"title":null,"tickSize":{"condition":{"test":"datum.value % 1 === 0","value":-6},"value":-3}}}}},
 {"data":{"values":[{"t":"C10 (1 burst)"}]},"mark":{"type":"text","align":"left","baseline":"middle","fontSize":11.5,"font":"Liberation Sans"},"encoding":{"x":{"datum":-1.8,"type":"quantitative","axis":null},"y":{"datum":2.45,"type":"quantitative","axis":null},"text":{"field":"t"}}}
]}
]
}
